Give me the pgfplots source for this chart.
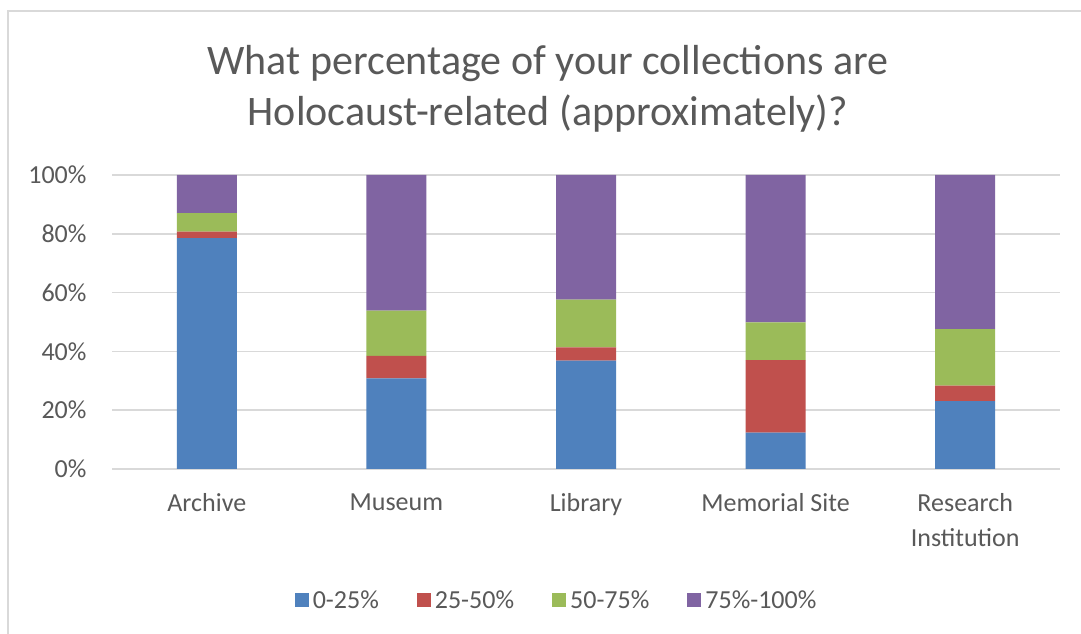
\documentclass[border=0pt]{standalone}
\usepackage{fontspec}
\setmainfont{Carlito}
\usepackage{pgfplots}
\pgfplotsset{compat=1.18}
\definecolor{cblue}{HTML}{4F81BD}
\definecolor{cred}{HTML}{C0504D}
\definecolor{cgreen}{HTML}{9BBB59}
\definecolor{cpurple}{HTML}{8064A2}
\definecolor{txt}{HTML}{595959}
\definecolor{gridgray}{HTML}{D9D9D9}
\begin{document}
\begin{tikzpicture}
\useasboundingbox (0pt,0pt) rectangle (1081pt,634pt);
\fill[white] (0pt,0pt) rectangle (1081pt,634pt);
\draw[line width=2pt, color=gridgray] (8pt,0pt) -- (8pt,623pt) -- (1081pt,623pt);
\node[text=txt, font=\fontsize{42}{51}\selectfont, align=center] at (548pt,545pt) {What percentage of your collections are\\Holocaust-related (approximately)?};
\begin{axis}[
  at={(112pt,165pt)}, anchor=south west,
  scale only axis, width=948pt, height=294pt,
  ybar stacked, bar width=60pt,
  xmin=-0.5, xmax=4.5, ymin=0, ymax=100,
  xtick={0,1,2,3,4},
  xticklabels={Archive,Museum,Library,Memorial Site,Research\\Institution},
  xticklabel style={align=center, font=\fontsize{26}{35}\selectfont, text=txt, yshift=-21pt},
  ytick={0,20,40,60,80,100},
  yticklabel={\pgfmathprintnumber{\tick}\%},
  yticklabel style={font=\fontsize{26}{31}\selectfont, text=txt, xshift=-22pt},
  /pgf/number format/assume math mode=true,
  ymajorgrids, grid style={color=gridgray, line width=1.5pt},
  axis line style={draw=none},
  major tick length=0pt,
  legend columns=4,
  legend style={at={(0.469,-0.446)}, anchor=center, draw=none, fill=none,
    font=\fontsize{26}{31}\selectfont, text=txt,
    /tikz/every even column/.append style={column sep=36pt},
    /tikz/every odd column/.append style={column sep=2pt}},
  legend image code/.code={\fill[#1] (0pt,-7pt) rectangle (14pt,7pt);},
]
\addplot[fill=cblue, draw=none] coordinates {(0,78.5) (1,30.8) (2,36.9) (3,12.4) (4,23.1)};
\addplot[fill=cred, draw=none] coordinates {(0,2.2) (1,7.7) (2,4.5) (3,24.6) (4,5.3)};
\addplot[fill=cgreen, draw=none] coordinates {(0,6.3) (1,15.4) (2,16.2) (3,12.9) (4,19.2)};
\addplot[fill=cpurple, draw=none] coordinates {(0,13.0) (1,46.1) (2,42.4) (3,50.1) (4,52.4)};
\legend{0-25\%,25-50\%,50-75\%,75\%-100\%}
\end{axis}
\end{tikzpicture}
\end{document}
